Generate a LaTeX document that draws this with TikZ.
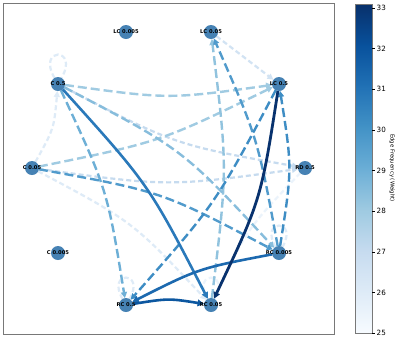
\documentclass[tikz,border=0pt]{standalone}
\usepackage{fontspec}
\setmainfont{DejaVu Sans}
\usetikzlibrary{arrows.meta}
\pgfdeclarelayer{paper}
\pgfdeclarelayer{bg}
\pgfsetlayers{paper,bg,main}
\definecolor{nodeblue}{RGB}{70,130,180}
\definecolor{framegray}{RGB}{120,120,120}
\definecolor{wa}{RGB}{235,243,251}
\definecolor{wb}{RGB}{222,235,247}
\definecolor{wc}{RGB}{210,227,243}
\definecolor{wd}{RGB}{198,219,239}
\definecolor{we}{RGB}{160,203,226}
\definecolor{wf}{RGB}{145,195,222}
\definecolor{wg}{RGB}{135,189,220}
\definecolor{wh}{RGB}{109,175,214}
\definecolor{wi}{RGB}{81,155,204}
\definecolor{wj}{RGB}{62,141,196}
\definecolor{wk}{RGB}{42,121,186}
\definecolor{wl}{RGB}{28,105,175}
\definecolor{wm}{RGB}{12,87,160}
\definecolor{wn}{RGB}{8,50,110}
\definecolor{bz}{RGB}{247,251,255}
\definecolor{bo}{RGB}{222,235,247}
\definecolor{btw}{RGB}{198,219,239}
\definecolor{bth}{RGB}{158,202,225}
\definecolor{bfo}{RGB}{107,174,214}
\definecolor{bfi}{RGB}{66,146,198}
\definecolor{bsi}{RGB}{33,113,181}
\definecolor{bse}{RGB}{8,81,156}
\definecolor{bei}{RGB}{8,48,107}
\tikzset{
  gnode/.style={circle, fill=nodeblue, minimum size=14pt, inner sep=0pt, outer sep=0pt},
  lbl/.style={font=\fontsize{5.2}{6}\selectfont\bfseries, text=black, inner sep=0pt},
  ln/.style={line width=2.4pt, dash pattern=on 9pt off 4pt, -{Triangle[length=6pt,width=6pt]}},
  sh/.style={line width=2.2pt, dash pattern=on 5pt off 3pt, -{Triangle[length=6pt,width=6pt]}},
  so/.style={line width=2.6pt, -{Triangle[length=6.5pt,width=6.5pt]}},
  lp/.style={line width=2.2pt, dash pattern=on 5pt off 3pt},
  tick/.style={font=\fontsize{7.2}{8}\selectfont, anchor=west, inner sep=0pt},
}
\begin{document}
\begin{tikzpicture}[x=1pt,y=1pt]
\useasboundingbox (0,0) rectangle (398,-341);
\begin{pgfonlayer}{paper}
\fill[white] (0,0) rectangle (398,-341);
\end{pgfonlayer}
\draw[framegray, line width=0.9pt] (3,-3) rectangle (334,-334);

% nodes
\node[gnode, label={[lbl]center:LC 0.005}] (A) at (126,-32) {};
\node[gnode, label={[lbl]center:LC 0.05}] (B) at (211,-32) {};
\node[gnode, label={[lbl]center:LC 0.5}] (D) at (279,-84) {};
\node[gnode, label={[lbl]center:RD 0.5}] (E) at (305,-168) {};
\node[gnode, label={[lbl]center:RC 0.005}] (F) at (279,-253) {};
\node[gnode, label={[lbl]center:RC 0.05}] (G) at (211,-305) {};
\node[gnode, label={[lbl]center:RC 0.5}] (H) at (126,-305) {};
\node[gnode, label={[lbl]center:C 0.005}] (I) at (58,-253) {};
\node[gnode, label={[lbl]center:C 0.05}] (J) at (32,-168) {};
\node[gnode, label={[lbl]center:C 0.5}] (K) at (58,-84) {};

\begin{pgfonlayer}{bg}
% self loops
\draw[lp, color=wb] (K.120) .. controls +(120:36) and +(60:36) .. (K.60);
\draw[lp, color=wb] (H.120) .. controls +(120:33) and +(60:33) .. (H.60);
\draw[lp, color=wb] (F.120) .. controls +(120:33) and +(60:33) .. (F.60);
\draw[lp, color=wa] (G.120) .. controls +(120:33) and +(60:33) .. (G.60);
% light edges
\draw[sh, color=wa] (E) .. controls (247,-229) .. (G);
\draw[sh, color=wb] (J) .. controls (132.8,-221.7) .. (G);
\draw[sh, color=wb] (J) .. controls (53.9,-128.8) .. (K);
\draw[sh, color=wc] (B) -- (D);
\draw[sh, color=wd] (K) .. controls (175.1,-144.9) .. (E);
\draw[sh, color=wd] (J) .. controls (168.5,-186.7) .. (E);
% medium dashed edges
\draw[ln, color=we] (K) .. controls (168.5,-99.3) .. (D);
\draw[ln, color=we] (J) .. controls (160.8,-141.7) .. (D);
\draw[ln, color=wf] (G) .. controls (227.7,-168.5) .. (B);
\draw[ln, color=wg] (K) .. controls (183,-149.4) .. (F);
\draw[ln, color=wh] (K) .. controls (107.3,-189.8) .. (H);
\draw[ln, color=wi] (J) .. controls (162,-191.6) .. (F);
\draw[ln, color=wi] (F) .. controls (257.8,-138.6) .. (B);
\draw[ln, color=wj] (F) .. controls (292.3,-168.5) .. (D);
\draw[ln, color=wj] (D) .. controls (215.7,-203.6) .. (H);
% solid edges
\draw[so, color=wk] (K) .. controls (148.8,-184.6) .. (G);
\draw[so, color=wl] (F) .. controls (198.9,-268.3) .. (H);
\draw[so, color=wm] (H) .. controls (168.5,-298.3) .. (G);
\draw[so, color=wn, line width=2.8pt] (D) .. controls (261,-199.4) .. (G);
\end{pgfonlayer}

% colour bar
\shade[bottom color=bz, top color=bo] (355,-333) rectangle (372,-291.6);
\shade[bottom color=bo, top color=btw] (355,-292) rectangle (372,-250.5);
\shade[bottom color=btw, top color=bth] (355,-250.9) rectangle (372,-209.4);
\shade[bottom color=bth, top color=bfo] (355,-209.8) rectangle (372,-168.3);
\shade[bottom color=bfo, top color=bfi] (355,-168.7) rectangle (372,-127.2);
\shade[bottom color=bfi, top color=bsi] (355,-127.6) rectangle (372,-86.1);
\shade[bottom color=bsi, top color=bse] (355,-86.5) rectangle (372,-45);
\shade[bottom color=bse, top color=bei] (355,-45.4) rectangle (372,-4);
\draw[framegray, line width=0.8pt] (355,-333) rectangle (372,-4);
\foreach \v/\yy in {25/-333,26/-292.4,27/-251.8,28/-211.1,29/-170.5,30/-129.9,31/-89.3,32/-48.7,33/-8.1}{
  \draw[black, line width=0.6pt] (372,\yy) -- (375,\yy);
  \node[tick] at (376.5,\yy) {\v};
}
\node[rotate=-90, font=\fontsize{5.4}{6}\selectfont, inner sep=0pt] (cbl) at (392,-168) {Edge Frequency (Weight)};
\end{tikzpicture}
\end{document}
